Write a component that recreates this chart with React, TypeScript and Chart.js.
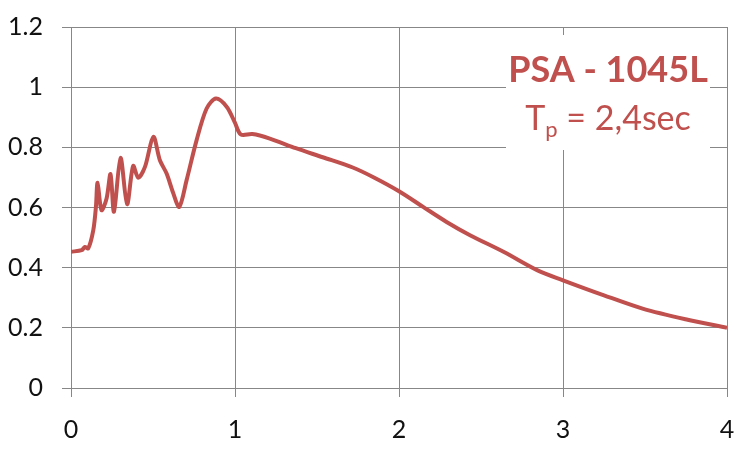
import React, { useEffect, useRef } from "react";
import { Chart, registerables } from "chart.js";

Chart.register(...registerables);

// Period (sec)
const periods = [
  0, 0.065, 0.085, 0.105, 0.136, 0.152, 0.162, 0.186, 0.217, 0.241, 0.262, 0.302, 0.342,
  0.379, 0.41, 0.451, 0.502, 0.542, 0.583, 0.622, 0.66, 0.705, 0.766, 0.827, 0.884, 0.949,
  0.998, 1.035, 1.106, 1.208, 1.371, 1.535, 1.718, 1.85, 2.0, 2.147, 2.29, 2.433, 2.64,
  2.845, 3.0, 3.25, 3.49, 3.76, 4.0,
];
// Pseudo spectral acceleration
const psa = [
  0.453, 0.458, 0.469, 0.464, 0.525, 0.602, 0.682, 0.591, 0.63, 0.711, 0.586, 0.765, 0.611,
  0.738, 0.699, 0.735, 0.835, 0.757, 0.713, 0.65, 0.602, 0.691, 0.824, 0.929, 0.962, 0.935,
  0.884, 0.843, 0.844, 0.83, 0.797, 0.767, 0.733, 0.699, 0.654, 0.602, 0.552, 0.508, 0.452,
  0.391, 0.358, 0.308, 0.263, 0.227, 0.2,
];
const xTicks = [0, 1, 2, 3, 4];
const yTicks = [0, 0.2, 0.4, 0.6, 0.8, 1, 1.2];
const titleText = "PSA - 1045L";
const tpMain = "T";
const tpSub = "p";
const tpRest = " = 2,4sec";

const RED = "#C0504D";
const GRID = "#878787";
const FONT = "Lato, 'Open Sans', sans-serif";

export default function App() {
  const ref = useRef<HTMLCanvasElement | null>(null);

  useEffect(() => {
    const canvas = ref.current;
    if (!canvas) return;

    const annotation = {
      id: "psaBox",
      afterDatasetsDraw(chart: any) {
        const { ctx, chartArea } = chart;
        const boxW = 204;
        const boxH = 115;
        const bx = chartArea.right - 17 - boxW;
        const by = chartArea.top + 8;
        ctx.save();
        ctx.fillStyle = "#ffffff";
        ctx.fillRect(bx, by, boxW, boxH);
        const cx = bx + boxW / 2;
        ctx.fillStyle = RED;
        ctx.textBaseline = "alphabetic";
        ctx.textAlign = "left";
        ctx.font = `bold 36px ${FONT}`;
        const w1 = ctx.measureText(titleText).width;
        ctx.fillText(titleText, cx - w1 / 2, by + 47);

        const big = `normal 34px ${FONT}`;
        const small = `normal 22px ${FONT}`;
        ctx.font = big;
        const wT = ctx.measureText(tpMain).width;
        const wR = ctx.measureText(tpRest).width;
        ctx.font = small;
        const wS = ctx.measureText(tpSub).width;
        const total = wT + wS + wR;
        let x = cx - total / 2;
        const base = by + 95;
        ctx.font = big;
        ctx.fillText(tpMain, x, base);
        x += wT;
        ctx.font = small;
        ctx.fillText(tpSub, x, base + 7);
        x += wS;
        ctx.font = big;
        ctx.fillText(tpRest, x, base);
        ctx.restore();
      },
    };

    const chart = new Chart(canvas, {
      type: "line",
      data: {
        datasets: [
          {
            data: periods.map((p, i) => ({ x: p, y: psa[i] })),
            borderColor: RED,
            borderWidth: 4,
            pointRadius: 0,
            tension: 0.3,
            fill: false,
          },
        ],
      },
      options: {
        animation: false,
        responsive: false,
        maintainAspectRatio: false,
        layout: { padding: { top: 27, right: 20, left: 0, bottom: 0 } },
        plugins: {
          legend: { display: false },
          tooltip: { enabled: false },
        },
        scales: {
          x: {
            type: "linear",
            min: xTicks[0],
            max: xTicks[xTicks.length - 1],
            afterBuildTicks: (s: any) => {
              s.ticks = xTicks.map((v) => ({ value: v }));
            },
            afterFit: (s: any) => {
              s.height = 62;
              s.paddingLeft = 0;
              s.paddingRight = 0;
            },
            grid: { color: GRID, lineWidth: 1, tickLength: 9, drawTicks: true },
            border: { color: GRID, width: 1 },
            ticks: {
              color: "#111",
              font: { family: FONT, size: 25 },
              padding: 18,
              maxRotation: 0,
              callback: (v: any) => String(v),
            },
          },
          y: {
            type: "linear",
            min: yTicks[0],
            max: yTicks[yTicks.length - 1],
            afterBuildTicks: (s: any) => {
              s.ticks = yTicks.map((v) => ({ value: v }));
            },
            afterFit: (s: any) => {
              s.width = 71;
              s.paddingTop = 0;
              s.paddingBottom = 0;
            },
            grid: { color: GRID, lineWidth: 1, tickLength: 9, drawTicks: true },
            border: { color: GRID, width: 1 },
            ticks: {
              color: "#111",
              font: { family: FONT, size: 25 },
              padding: 19,
              callback: (v: any) => String(+Number(v).toFixed(1)),
            },
          },
        },
      },
      plugins: [annotation],
    });

    return () => chart.destroy();
  }, []);

  return (
    <div style={{ position: "fixed", left: 0, top: 0, width: 747, height: 450, background: "#fff" }}>
      <canvas ref={ref} width={747} height={450} style={{ width: 747, height: 450 }} />
    </div>
  );
}
